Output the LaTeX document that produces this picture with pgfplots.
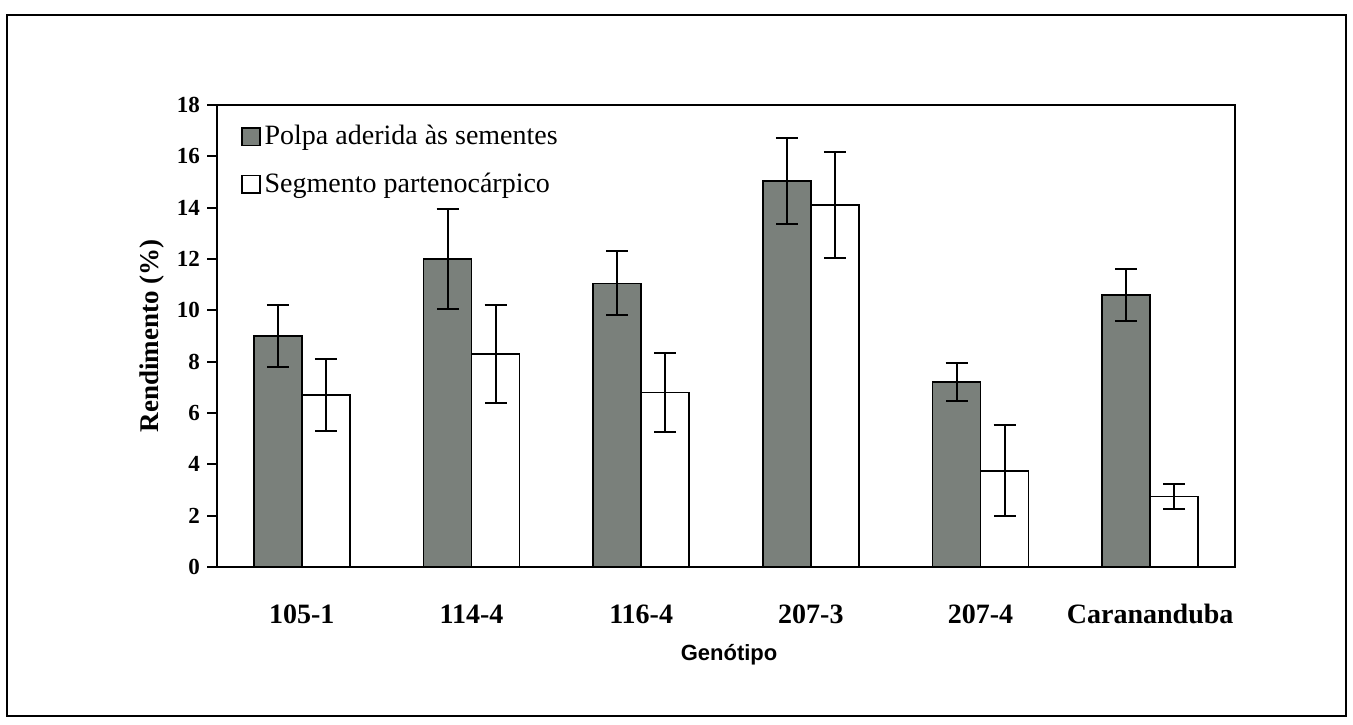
\documentclass[border=0pt]{standalone}
\usepackage{fontspec}
\setmainfont{Liberation Serif}
\setsansfont{Liberation Sans}
\usepackage{pgfplots}
\pgfplotsset{compat=1.18}
\definecolor{barcinza}{HTML}{7A807B}
\begin{document}
\begin{tikzpicture}
\path[use as bounding box] (0,0) rectangle (676.5pt,362pt);
\draw[line width=1.2pt] (3.5pt,4pt) rectangle (673pt,354.5pt);
\begin{axis}[
  at={(108.5pt,78.5pt)}, anchor=south west,
  scale only axis, width=509pt, height=231pt,
  xmin=-0.5, xmax=5.5, ymin=0, ymax=18,
  ytick={0,2,...,18}, xtick={0,...,5},
  xticklabels={105-1,114-4,116-4,207-3,207-4,Carananduba},
  axis line style={line width=0.9pt},
  tick align=outside, ytick pos=left, major tick length=5pt,
  ytick style={line width=0.9pt, black},
  xtick style={draw=none},
  /pgf/number format/assume math mode=true,
  yticklabel style={font=\bfseries\fontsize{11.5}{13}\selectfont},
  xticklabel style={font=\bfseries\fontsize{14}{16}\selectfont, anchor=center, yshift=-18.5pt},
  xlabel={Genótipo},
  xlabel style={font=\sffamily\bfseries\fontsize{11}{13}\selectfont, at={(axis description cs:0.503,-0.1905)}, anchor=center},
  ylabel={Rendimento (\%)},
  ylabel style={font=\bfseries\fontsize{13.5}{16}\selectfont, at={(axis description cs:-0.0639,0.5)}, anchor=center, rotate=0},
  ybar=0pt, bar width=24pt,
  legend cell align=left,
  legend style={at={(axis description cs:0,1)}, anchor=north west, xshift=9pt, yshift=-6pt,
    draw=none, fill=none, font=\fontsize{14}{16}\selectfont, row sep=8.5pt},
  legend image code/.code={\draw[#1] (0pt,-4.4pt) rectangle (8.8pt,4.4pt);},
  error bars/y dir=both, error bars/y explicit,
  error bars/error bar style={line width=1pt, black},
  error bars/error mark options={rotate=90, mark size=5.5pt, line width=1pt, black},
]
\addplot[fill=barcinza, draw=black, line width=0.8pt] coordinates {
  (0,9.0)   +- (0,1.2)
  (1,12.0)  +- (0,1.95)
  (2,11.05) +- (0,1.25)
  (3,15.05) +- (0,1.67)
  (4,7.2)   +- (0,0.75)
  (5,10.6)  +- (0,1.0)
};
\addplot[fill=white, draw=black, line width=0.8pt] coordinates {
  (0,6.7)   +- (0,1.4)
  (1,8.3)   +- (0,1.9)
  (2,6.8)   +- (0,1.55)
  (3,14.1)  +- (0,2.05)
  (4,3.75)  +- (0,1.77)
  (5,2.75)  +- (0,0.5)
};
\legend{Polpa aderida às sementes, Segmento partenocárpico}
\end{axis}
\end{tikzpicture}
\end{document}
